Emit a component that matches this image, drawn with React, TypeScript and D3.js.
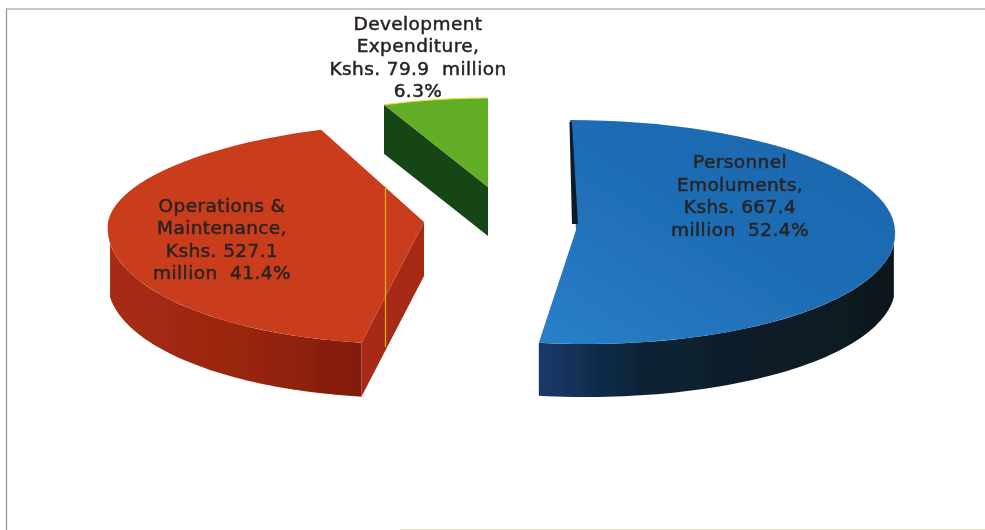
import React from "react";
import * as d3 from "d3";

const categories = ["Personnel Emoluments", "Operations & Maintenance", "Development Expenditure"];
const amounts = [667.4, 527.1, 79.9];
const labelLines = [
  ["Personnel", "Emoluments,", "Kshs. 667.4", "million  52.4%"],
  ["Operations &", "Maintenance,", "Kshs. 527.1", "million  41.4%"],
  ["Development", "Expenditure,", "Kshs. 79.9  million", "6.3%"],
];

type Geo = {
  cx: number; cy: number; rx: number; ryBack: number; ryFront: number; skewBack: number; skewFront: number; depth: number;
  top: string; wall: string[]; inner: string;
  label: [number, number]; labelStep: number;
};
const geos: Geo[] = [
  { cx: 576, cy: 230, rx: 319, ryBack: 110, ryFront: 114, skewBack: 0.055, skewFront: 0.09, depth: 53, top: "url(#blueTop)", wall: ["#16396a", "#0c2233", "#0a181b"], inner: "#0b1d2c", label: [740, 168], labelStep: 22.6 },
  { cx: 424, cy: 222, rx: 316, ryBack: 100, ryFront: 122, skewBack: -0.2, skewFront: -0.13, depth: 54, top: "#c93e1c", wall: ["#a82c14", "#96240f", "#821c0e"], inner: "#a62c14", label: [222, 212], labelStep: 22.3 },
  { cx: 488, cy: 187, rx: 271, ryBack: 89, ryFront: 89, skewBack: 0, skewFront: 0, depth: 49, top: "#62ad27", wall: ["#1a4a12", "#1a4a12", "#1a4a12"], inner: "#184412", label: [418, 30], labelStep: 22.4 },
];

const pieArcs = d3.pie<number>().sort(null)(amounts);
const line = d3.line<[number, number]>();

function project(g: Geo, a: number): [number, number] {
  const c = Math.cos(a);
  const dy = -c * (c > 0 ? g.ryBack : g.ryFront);
  return [g.cx + g.rx * Math.sin(a) + (c > 0 ? g.skewBack : g.skewFront) * dy, g.cy + dy];
}
function sample(a0: number, a1: number): number[] {
  return d3.range(61).map((i) => a0 + ((a1 - a0) * i) / 60);
}
const deg = (d: number) => (d * Math.PI) / 180;

export default function App() {
  return (
    <svg width={985} height={530} style={{ position: "fixed", left: 0, top: 0, background: "#fff" }}>
      <defs>
        <filter id="soft" x="-5%" y="-5%" width="110%" height="110%"><feGaussianBlur stdDeviation="0.55" /></filter>
        <filter id="softText" x="-5%" y="-20%" width="110%" height="140%"><feGaussianBlur stdDeviation="0.55" /></filter>
        <linearGradient id="blueTop" x1="0" y1="1" x2="1" y2="0">
          <stop offset="0" stopColor="#2a80c8" />
          <stop offset="0.45" stopColor="#1f6eb6" />
          <stop offset="1" stopColor="#1a66ad" />
        </linearGradient>
        {geos.map((g, i) => (
          <linearGradient key={i} id={`wall${i}`} x1="0" y1="0" x2="1" y2="0">
            <stop offset="0" stopColor={g.wall[0]} />
            <stop offset={i === 0 ? "0.3" : "0.6"} stopColor={g.wall[1]} />
            <stop offset="1" stopColor={g.wall[2]} />
          </linearGradient>
        ))}
      </defs>
      <g filter="url(#soft)">
        <path d="M985,9 H6.5 V530" fill="none" stroke="#84968c" strokeWidth={1.2} />
        <line x1={400} x2={985} y1={529.5} y2={529.5} stroke="#e6dcc4" strokeWidth={1} />
        {pieArcs.map((arc, i) => {
          const g = geos[i];
          const pts = sample(arc.startAngle, arc.endAngle).map((a) => project(g, a));
          const center: [number, number] = [g.cx, g.cy];
          const top = line([center, ...pts])! + "Z";
          const start = project(g, arc.startAngle);
          const off = (p: [number, number]): [number, number] => [p[0], p[1] + g.depth];

          let wall: React.ReactNode = null;
          let inner: React.ReactNode = null;
          let sliver: React.ReactNode = null;
          if (i === 0) {
            const w = sample(deg(97), arc.endAngle).map((a) => project(g, a));
            wall = <path d={line([...w, ...w.slice().reverse().map(off)])! + "Z"} fill="url(#wall0)" />;
            sliver = (
              <path
                d={line([[start[0] - 0.5, start[1] + 2], [start[0] + 2, start[1] + 2], [center[0] + 2, center[1] - 6], [center[0] - 4, center[1] - 6]])! + "Z"}
                fill={g.inner}
              />
            );
          } else if (i === 1) {
            const w = sample(arc.startAngle, deg(260)).map((a) => project(g, a));
            wall = <path d={line([...w, ...w.slice().reverse().map(off)])! + "Z"} fill="url(#wall1)" />;
            inner = <path d={line([center, start, off(start), off(center)])! + "Z"} fill={g.inner} />;
          } else {
            inner = <path d={line([start, center, off(center), off(start)])! + "Z"} fill={g.inner} />;
          }
          return (
            <g key={categories[i]}>
              {inner}
              {wall}
              <path d={top} fill={g.top} />
              {sliver}
              {i === 2 && <path d={line(pts)!} fill="none" stroke="#e6e04a" strokeWidth={1.2} />}
            </g>
          );
        })}
        <line x1={385.5} x2={385.5} y1={186} y2={347} stroke="#e0a818" strokeWidth={1.3} />
      </g>
      <g filter="url(#softText)" fontFamily="'DejaVu Sans', sans-serif" fontWeight={400} fontSize={18.5} letterSpacing={0.4} textAnchor="middle" fill="#2a2422" stroke="#2a2422" strokeWidth={0.5}>
        {labelLines.map((lines, i) =>
          lines.map((t, j) => (
            <text key={t} x={geos[i].label[0]} y={geos[i].label[1] + j * geos[i].labelStep} style={{ whiteSpace: "pre" }}>
              {t}
            </text>
          ))
        )}
      </g>
    </svg>
  );
}
